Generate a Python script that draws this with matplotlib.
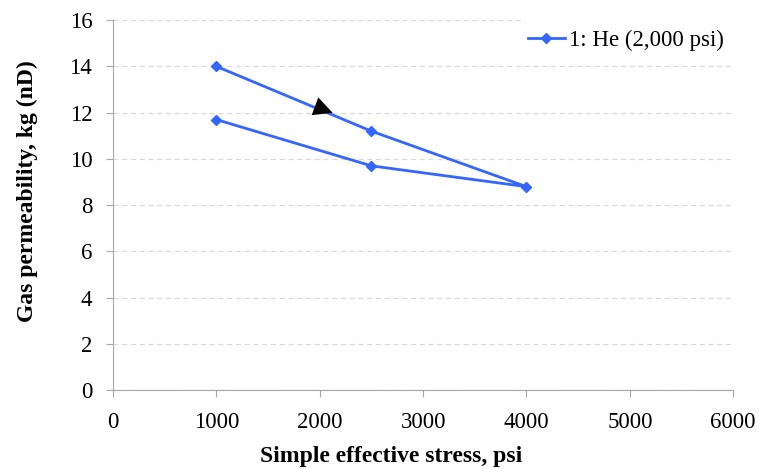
import numpy as np
import matplotlib.pyplot as plt

plt.rcParams['font.family'] = ['Liberation Serif', 'DejaVu Serif']

# datos: carga y descarga
esfuerzo = [1000, 2500, 4000, 2500, 1000]
permeabilidad = [14.0, 11.2, 8.8, 9.7, 11.7]
etiqueta = '1: He (2,000 psi)'

fig = plt.figure(figsize=(7.59, 4.69), dpi=100)
ax = fig.add_axes([0.149, 0.168, 0.817, 0.789])

ax.plot(esfuerzo, permeabilidad, color='#3366FF', lw=2, marker='D', markersize=5,
        label=etiqueta, zorder=3)

# flecha que indica el sentido de la carga
ax.annotate('', xy=(2150, 11.95), xytext=(1850, 12.45),
            arrowprops=dict(arrowstyle='-|>', color='black', lw=0, mutation_scale=34),
            zorder=4)

ax.set_xlim(0, 6000)
ax.set_ylim(0, 16)
ax.set_xticks(np.arange(0, 6001, 1000))
ax.set_yticks(np.arange(0, 17, 2))
ax.grid(True, axis='y', linestyle=(0, (4, 3)), color='#D9D9D9', lw=0.9)
ax.set_axisbelow(True)

for s in ['top', 'right']:
    ax.spines[s].set_visible(False)
for s in ['left', 'bottom']:
    ax.spines[s].set_color('#A6A6A6')
ax.tick_params(axis='both', colors='#A6A6A6', labelcolor='black', labelsize=16.5,
               length=5, direction='out')
ax.tick_params(axis='x', pad=11)
ax.tick_params(axis='y', pad=10)

ax.set_xlabel('Simple effective stress, psi', fontsize=17, fontweight='bold')
ax.xaxis.set_label_coords(0.448, -0.152)
ax.set_ylabel('Gas permeability, kg (nD)', fontsize=17, fontweight='bold')
ax.yaxis.set_label_coords(-0.121, 0.538)

leg = ax.legend(loc='upper right', bbox_to_anchor=(1.0, 1.0), frameon=True, fontsize=16.5,
                handlelength=1.6, handletextpad=0.2, borderaxespad=0.0)
leg.get_frame().set_edgecolor('none')
leg.get_frame().set_facecolor('white')
leg.get_frame().set_alpha(1)

fig.savefig('out.png', dpi=100)
